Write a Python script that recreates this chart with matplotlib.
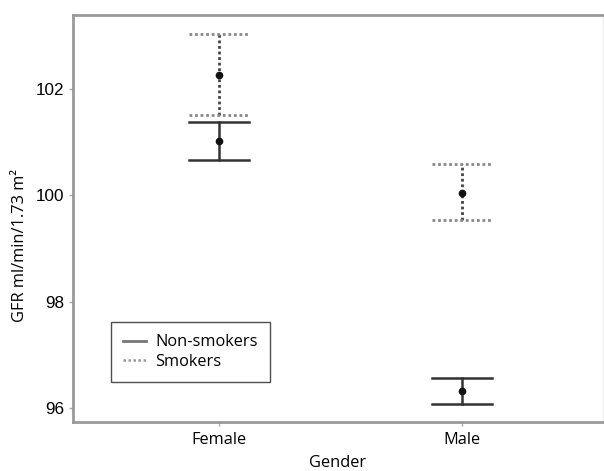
import matplotlib
matplotlib.use("Agg")
import matplotlib.pyplot as plt
from matplotlib.lines import Line2D

genders = ["Female", "Male"]
nonsmoker_mean = [101.02, 96.33]
nonsmoker_low = [100.66, 96.08]
nonsmoker_high = [101.38, 96.57]
smoker_mean = [102.27, 100.05]
smoker_low = [101.51, 99.53]
smoker_high = [103.03, 100.59]
yticks = [96, 98, 100, 102]

fig = plt.figure(figsize=(6.04, 4.71), dpi=100)
ax = fig.add_axes([73/604, 49/471, 530/604, 407/471])

xpos = [1, 2]
cap = 0.123

def draw(means, lows, highs, ls, vcol, ccol, lw):
    for x, m, lo, hi in zip(xpos, means, lows, highs):
        ax.plot([x, x], [lo, hi], color=vcol, linestyle=ls, linewidth=lw, zorder=2)
        ax.plot([x - cap, x + cap], [lo, lo], color=ccol, linestyle=ls, linewidth=lw, zorder=2)
        ax.plot([x - cap, x + cap], [hi, hi], color=ccol, linestyle=ls, linewidth=lw, zorder=2)
        ax.plot([x], [m], marker="o", markersize=4.5, color="#111111", zorder=3)

draw(smoker_mean, smoker_low, smoker_high, (0, (1, 1)), "#444444", "#888888", 2.0)
draw(nonsmoker_mean, nonsmoker_low, nonsmoker_high, "-", "#333333", "#333333", 1.8)

ax.set_xlim(0.40, 2.58)
ax.set_ylim(95.74, 103.39)
ax.set_xticks(xpos)
ax.set_xticklabels(genders, fontfamily="Open Sans", fontsize=11.8)
ax.set_yticks(yticks)
ax.set_yticklabels([str(v) for v in yticks], fontfamily="Liberation Sans", fontsize=12.3)
ax.tick_params(axis="both", color="#aaaaaa", length=3, width=1)
ax.tick_params(axis="y", pad=3)
ax.tick_params(axis="x", pad=4)

for s in ax.spines.values():
    s.set_color("#999999")
    s.set_linewidth(2)
ax.spines["right"].set_color("#eeeeee")
ax.spines["right"].set_linewidth(1)

ax.set_ylabel("GFR ml/min/1.73 m²", fontfamily="Open Sans", fontsize=11.8)
ax.yaxis.set_label_coords((28 - 73) / 530, (471 - 246 - 49) / 407)
ax.set_xlabel("Gender", fontfamily="Open Sans", fontsize=11.8, labelpad=5)

handles = [Line2D([0], [0], color="#777777", linewidth=2, linestyle="-"),
           Line2D([0], [0], color="#999999", linewidth=1.8, linestyle=(0, (1, 1)))]
leg = ax.legend(handles, ["Non-smokers", "Smokers"], loc="upper left",
                bbox_to_anchor=((111 - 73) / 530, (471 - 322 - 49) / 407),
                prop={"family": "Open Sans", "size": 11.8}, frameon=True,
                fancybox=False, handlelength=1.4, handletextpad=0.55,
                borderpad=0.75, labelspacing=0.2, borderaxespad=0)
leg.get_frame().set_edgecolor("#222222")
leg.get_frame().set_linewidth(1)

fig.savefig("out.png", dpi=100)
